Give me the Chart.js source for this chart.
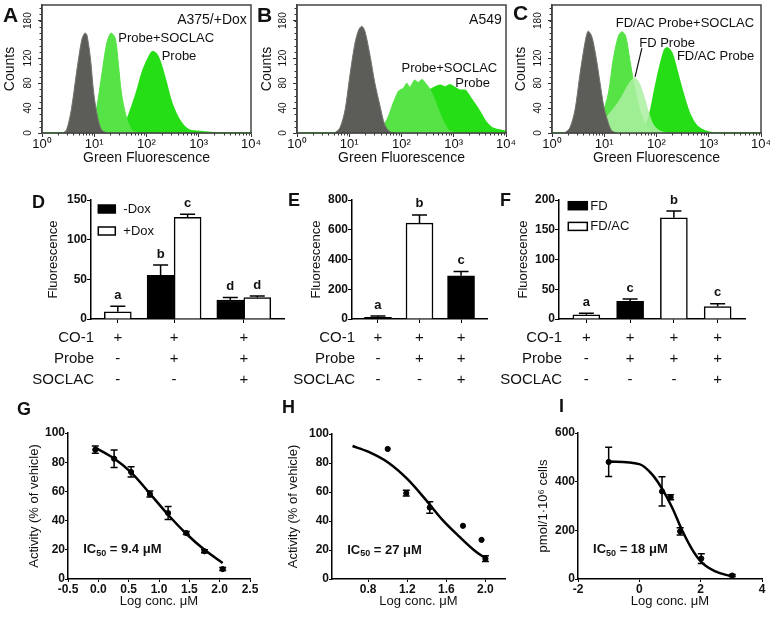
<!DOCTYPE html>
<html>
<head>
<meta charset="utf-8">
<script src="https://cdn.jsdelivr.net/npm/chart.js@4.4.0/dist/chart.umd.min.js"></script>
<style>
body { margin: 0; background: #fff; }
#fig { position: relative; width: 770px; height: 624px; overflow: hidden; font-family: "Liberation Sans", Arial, sans-serif; }
#fig canvas { position: absolute; }
.lt { position: absolute; font-weight: bold; line-height: 1; color: #111; }
</style>
</head>
<body>
<div id="fig">
  <canvas id="cA"></canvas><canvas id="cB"></canvas><canvas id="cC"></canvas>
  <canvas id="cD"></canvas><canvas id="cE"></canvas><canvas id="cF"></canvas>
  <canvas id="cG"></canvas><canvas id="cH"></canvas><canvas id="cI"></canvas>
  <div class="lt" style="left:3px;top:4px;font-size:21px">A</div>
  <div class="lt" style="left:257px;top:4px;font-size:21px">B</div>
  <div class="lt" style="left:513px;top:2px;font-size:21px">C</div>
  <div class="lt" style="left:32px;top:193px;font-size:18px">D</div>
  <div class="lt" style="left:288px;top:191px;font-size:18px">E</div>
  <div class="lt" style="left:500px;top:191px;font-size:18px">F</div>
  <div class="lt" style="left:17px;top:400px;font-size:18px">G</div>
  <div class="lt" style="left:282px;top:398px;font-size:18px">H</div>
  <div class="lt" style="left:559px;top:397px;font-size:18px">I</div>
</div>
<script>
// ---------- A-C : flow cytometry histograms (x in log10 units) ----------
const decades = [0, 1, 2, 3, 4];
const countTicks = [0, 40, 80, 120, 180];

const aCtrlX = [0.40, 0.47, 0.56, 0.66, 0.76, 0.82, 0.86, 0.93, 0.99, 1.06, 1.14, 1.24];
const aCtrlY = [0, 5, 37, 96, 149, 160, 157, 117, 64, 27, 5, 0];
const aSoclacX = [0.85, 0.95, 1.04, 1.14, 1.24, 1.32, 1.40, 1.46, 1.52, 1.61, 1.72, 1.88];
const aSoclacY = [0, 8, 37, 91, 144, 160, 152, 112, 64, 27, 5, 0];
const aProbeX = [0, 1.43, 1.56, 1.68, 1.81, 1.94, 2.07, 2.13, 2.23, 2.36, 2.48, 2.64, 2.80, 3.03, 3.28, 4];
const aProbeY = [0, 0, 8, 32, 64, 101, 125, 130, 120, 85, 48, 19, 5, 2, 0, 0];

const bCtrlX = [0.72, 0.82, 0.92, 1.01, 1.11, 1.18, 1.24, 1.30, 1.40, 1.49, 1.59, 1.68, 1.78, 1.88];
const bCtrlY = [0, 8, 37, 91, 144, 165, 171, 163, 123, 80, 43, 13, 2, 0];
const bSoclacX = [1.49, 1.65, 1.75, 1.84, 1.94, 2.04, 2.10, 2.16, 2.25, 2.32, 2.39, 2.46, 2.53, 2.61, 2.71, 2.80, 2.90, 3.03];
const bSoclacY = [0, 11, 27, 48, 67, 72, 80, 73, 85, 81, 86, 80, 72, 59, 37, 19, 5, 0];
const bProbeX = [0, 1.68, 1.88, 2.07, 2.23, 2.39, 2.52, 2.64, 2.74, 2.84, 2.93, 3.03, 3.12, 3.22, 3.32, 3.41, 3.51, 3.60, 3.73, 3.89, 4.0];
const bProbeY = [0, 0, 8, 24, 43, 56, 67, 73, 76, 73, 77, 72, 68, 68, 56, 45, 32, 19, 8, 4, 2];

const cCtrlX = [0.24, 0.34, 0.44, 0.53, 0.63, 0.69, 0.76, 0.84, 0.92, 0.99, 1.06, 1.14, 1.24];
const cCtrlY = [0, 8, 37, 91, 144, 163, 155, 123, 80, 43, 21, 4, 0];
const cSoclacX = [0.69, 0.82, 0.95, 1.08, 1.17, 1.27, 1.34, 1.41, 1.49, 1.59, 1.70, 1.81, 1.94];
const cSoclacY = [0, 8, 27, 64, 117, 155, 162, 155, 117, 69, 32, 11, 0];
const cFdX = [0.72, 0.92, 1.11, 1.30, 1.46, 1.57, 1.65, 1.75, 1.84, 1.94, 2.07, 2.20];
const cFdY = [0, 13, 32, 53, 77, 88, 83, 61, 35, 13, 3, 0];
const cFdacX = [0, 1.68, 1.78, 1.88, 1.97, 2.07, 2.16, 2.21, 2.29, 2.39, 2.52, 2.64, 2.77, 2.93, 3.09, 4];
const cFdacY = [0, 0, 8, 32, 69, 107, 133, 136, 128, 99, 59, 29, 11, 3, 0, 0];

// ---------- D-F : bar charts ----------
const rowNames = ['CO-1', 'Probe', 'SOCLAC'];

const dCO1 = ['+', '+', '+'];
const dProbe = ['-', '+', '+'];
const dSoclac = ['-', '-', '+'];
const dMinusDox = [null, 55, 24];
const dMinusDoxErr = [null, 13, 3];
const dMinusDoxSig = [null, 'b', 'd'];
const dPlusDox = [9, 128, 27];
const dPlusDoxErr = [7, 4, 2];
const dPlusDoxSig = ['a', 'c', 'd'];

const eCO1 = ['+', '+', '+'];
const eProbe = ['-', '+', '+'];
const eSoclac = ['-', '-', '+'];
const eBlack = [12, null, 291];
const eBlackErr = [8, null, 28];
const eBlackSig = ['a', null, 'c'];
const eWhite = [null, 645, null];
const eWhiteErr = [null, 55, null];
const eWhiteSig = [null, 'b', null];

const fCO1 = ['+', '+', '+', '+'];
const fProbe = ['-', '+', '+', '+'];
const fSoclac = ['-', '-', '-', '+'];
const fFD = [null, 29.5, null, null];
const fFDErr = [null, 4, null, null];
const fFDSig = [null, 'c', null, null];
const fFDAC = [7, null, 170, 21];
const fFDACErr = [2.5, null, 11.5, 4.5];
const fFDACSig = ['a', null, 'b', 'c'];

// ---------- G-I : dose response ----------
const gLogConc = [-0.05, 0.26, 0.54, 0.85, 1.15, 1.45, 1.75, 2.05];
const gActivity = [88.6, 82.4, 73.3, 58.2, 45.2, 31.5, 19, 6.8];
const gSem = [2.5, 6, 3.5, 2, 4.5, 1, 1, 1];
const gFitX = [-0.05, 0.26, 0.54, 0.85, 1.15, 1.45, 1.75, 2.05];
const gFitY = [90, 82.5, 73, 58.5, 44, 31, 20, 11];

const hLogConc = [1.0, 1.19, 1.43, 1.77, 1.96, 2.0];
const hActivity = [89.7, 59.2, 49.3, 36.7, 27, 14];
const hSem = [0, 2, 4, 0, 0, 2];
const hFitX = [0.64, 0.8, 1.0, 1.2, 1.39, 1.56, 1.73, 1.9, 2.0];
const hFitY = [91.7, 87.8, 80.5, 69, 54.6, 40.8, 29.4, 19, 14.4];

const iLogConc = [-1, 0.74, 1.02, 1.33, 2.02, 3.03];
const iAmount = [481, 360, 336, 196, 84, 14];
const iSem = [60, 60, 10, 15, 20, 4];
const iFitX = [-1, 0, 0.43, 0.76, 1.08, 1.41, 1.73, 2.05, 2.48, 3.0];
const iFitY = [483, 472, 428, 367, 291, 196, 120, 66, 31, 11];

// ----------------------------------------------------------------
const FONT = '"Liberation Sans", Arial, sans-serif';
const SUP = ['⁰', '¹', '²', '³', '⁴'];
const GRAY = '#5c5c58', SOC = '#55e346', PROBE = '#26de16', PALE = 'rgba(172,240,162,0.85)';

Chart.defaults.font.family = FONT;
Chart.defaults.color = '#111';
Chart.defaults.animation = false;
Chart.defaults.plugins.legend.display = false;
Chart.defaults.plugins.tooltip.enabled = false;

const font = (size, bold) => (bold ? 'bold ' : '') + size + 'px ' + FONT;
const pts = (xs, ys) => xs.map((x, i) => ({x, y: ys[i]}));

// extra drawing: frame, minor ticks, labels inside plots, legend, sign-table row names
const decor = {
  id: 'decor',
  afterDraw(chart, args, o) {
    const ctx = chart.ctx, a = chart.chartArea, sx = chart.scales.x, sy = chart.scales.y;
    ctx.save();
    ctx.strokeStyle = '#333';
    ctx.lineWidth = 1;
    if (o.minor) {
      ctx.beginPath();
      for (let d = 0; d < 4; d++) {
        for (let k = 2; k < 10; k++) {
          const px = Math.round(sx.getPixelForValue(d + Math.log10(k))) + 0.5;
          ctx.moveTo(px, a.bottom); ctx.lineTo(px, a.bottom + 2.5);
        }
      }
      for (let v = 10; v < sy.max; v += 10) {
        const py = Math.round(sy.getPixelForValue(v)) + 0.5;
        ctx.moveTo(a.left, py); ctx.lineTo(a.left - 2.5, py);
      }
      ctx.stroke();
    }
    if (o.frame) {
      ctx.lineWidth = 1.5;
      ctx.strokeStyle = o.frame;
      ctx.strokeRect(a.left, a.top, a.right - a.left, a.bottom - a.top);
    }
    ctx.fillStyle = '#111';
    ctx.textBaseline = 'middle';
    for (const t of (o.texts || [])) {
      ctx.font = font(t.size || 13, t.bold);
      ctx.textAlign = t.align || 'left';
      ctx.fillText(t.text, sx.getPixelForValue(t.x), sy.getPixelForValue(t.y));
    }
    ctx.strokeStyle = '#111';
    ctx.lineWidth = 1.2;
    for (const l of (o.lines || [])) {
      ctx.beginPath();
      ctx.moveTo(sx.getPixelForValue(l.x1), sy.getPixelForValue(l.y1));
      ctx.lineTo(sx.getPixelForValue(l.x2), sy.getPixelForValue(l.y2));
      ctx.stroke();
    }
    if (o.ic) {
      // IC50 label with subscript
      let x = sx.getPixelForValue(o.ic.x);
      const y = sy.getPixelForValue(o.ic.y);
      ctx.textAlign = 'left';
      ctx.font = font(13, true);
      ctx.fillText('IC', x, y);
      x += ctx.measureText('IC').width;
      ctx.font = font(9, true);
      ctx.fillText('50', x, y + 4);
      x += ctx.measureText('50').width;
      ctx.font = font(13, true);
      ctx.fillText(o.ic.rest, x, y);
    }
    if (o.legend) {
      const L = o.legend;
      chart.data.datasets.forEach((ds, i) => {
        const x = a.left + L.dx, y = a.top + L.dy + i * L.step;
        ctx.fillStyle = ds.backgroundColor;
        ctx.fillRect(x, y, L.w, L.h);
        ctx.strokeStyle = '#000';
        ctx.lineWidth = 1.5;
        ctx.strokeRect(x, y, L.w, L.h);
        ctx.fillStyle = '#111';
        ctx.font = font(13);
        ctx.textAlign = 'left';
        ctx.fillText(ds.label, x + L.w + L.gap, y + L.h / 2 + 0.5);
      });
    }
    if (o.rows) {
      ctx.font = font(15);
      ctx.textAlign = 'right';
      ctx.fillStyle = '#111';
      rowNames.forEach((r, i) => ctx.fillText(r, a.left + 3, a.bottom + o.rows.start + i * o.rows.step));
    }
    ctx.restore();
  }
};

// error bars (+ significance letters on bars)
const errorBars = {
  id: 'errorBars',
  afterDatasetsDraw(chart) {
    const ctx = chart.ctx, sy = chart.scales.y;
    chart.data.datasets.forEach((ds, i) => {
      if (!ds.errors) return;
      const meta = chart.getDatasetMeta(i);
      ctx.save();
      ctx.strokeStyle = '#000';
      ctx.lineWidth = 1.5;
      meta.data.forEach((el, j) => {
        const v = ds.data[j].y;
        if (v == null) return;
        const e = ds.errors[j];
        const top = sy.getPixelForValue(v + (e || 0));
        if (e) {
          const bot = ds.upOnly ? el.y : sy.getPixelForValue(v - e);
          const hw = ds.capHalf;
          ctx.beginPath();
          ctx.moveTo(el.x, bot); ctx.lineTo(el.x, top);
          ctx.moveTo(el.x - hw, top); ctx.lineTo(el.x + hw, top);
          if (!ds.upOnly) { ctx.moveTo(el.x - hw, bot); ctx.lineTo(el.x + hw, bot); }
          ctx.stroke();
        }
        if (ds.letters && ds.letters[j]) {
          ctx.fillStyle = '#111';
          ctx.font = font(13, true);
          ctx.textAlign = 'center';
          ctx.textBaseline = 'middle';
          ctx.fillText(ds.letters[j], el.x, top - 11);
        }
      });
      ctx.restore();
    });
  }
};
Chart.register(decor, errorBars);

// put a chart so that its plot area lands on `area` (page px)
function place(id, box, area, cfg) {
  const cv = document.getElementById(id);
  cv.width = box[2]; cv.height = box[3];
  cv.style.left = box[0] + 'px'; cv.style.top = box[1] + 'px';
  cv.style.width = box[2] + 'px'; cv.style.height = box[3] + 'px';
  const o = cfg.options;
  o.responsive = false;
  o.devicePixelRatio = 1;
  o.layout = {padding: {left: 0, top: area[1] - box[1], right: box[0] + box[2] - area[2], bottom: 0}};
  o.scales.x.afterFit = s => { s.height = box[1] + box[3] - area[3]; s.paddingLeft = 0; s.paddingRight = 0; };
  o.scales.y.afterFit = s => { s.width = area[0] - box[0]; s.paddingTop = 0; s.paddingBottom = 0; };
  return new Chart(cv, cfg);
}

function flowPanel(id, box, area, sets, texts, lines, yTitleX) {
  return place(id, box, area, {
    type: 'line',
    data: {
      datasets: sets.map(s => ({
        data: pts(s.x, s.y), backgroundColor: s.fill, borderColor: s.line, borderWidth: s.bw || 1,
        fill: 'origin', pointRadius: 0, tension: s.tension
      }))
    },
    options: {
      scales: {
        x: {
          type: 'linear', min: 0, max: 4,
          afterBuildTicks: s => { s.ticks = decades.map(v => ({value: v})); },
          ticks: {callback: v => '10' + SUP[v], font: {size: 13}, padding: 0, maxRotation: 0, autoSkip: false, color: '#111'},
          grid: {drawOnChartArea: false, tickLength: 4, color: '#333'},
          border: {color: '#444', width: 1.5},
          title: {display: true, text: 'Green Fluorescence', font: {size: 14}, color: '#111', padding: {bottom: box[1] + box[3] - 158 - 8.4}}
        },
        y: {
          min: 0, max: 205,
          afterBuildTicks: s => { s.ticks = countTicks.map(v => ({value: v})); },
          ticks: {minRotation: 90, maxRotation: 90, crossAlign: 'center', padding: 1, font: {size: 10}, color: '#111'},
          grid: {drawOnChartArea: false, tickLength: 4, color: '#333'},
          border: {color: '#444', width: 1.5},
          title: {display: true, text: 'Counts', font: {size: 14}, color: '#111', padding: {top: yTitleX - box[0] - 8.4}}
        }
      },
      plugins: {decor: {frame: '#444', minor: true, texts, lines}}
    }
  });
}

// group centres: half a bar at each end, 0.6 bar between groups
function layoutGroups(seriesValues) {
  const n = seriesValues[0].length;
  let pos = 0.5;
  const groups = [];
  for (let i = 0; i < n; i++) {
    const k = seriesValues.filter(s => s[i] != null).length;
    if (i) pos += 0.6;
    groups.push(pos + k / 2);
    pos += k;
  }
  return {groups, max: pos + 0.5};
}

function barPanel(id, box, area, series, signs, yMax, yStep, yTitleX, legend) {
  const lay = layoutGroups(series.map(s => s.values));
  const datasets = series.map(s => ({
    label: s.label,
    data: s.values.map((v, i) => ({x: lay.groups[i], y: v})),
    errors: s.errors, letters: s.letters, upOnly: true, capHalf: 7.5,
    backgroundColor: s.fill, borderColor: '#000', borderWidth: 1.5,
    skipNull: true, barThickness: 27
  }));
  return place(id, box, area, {
    type: 'bar',
    data: {datasets},
    options: {
      scales: {
        x: {
          type: 'linear', min: 0, max: lay.max, offset: false,
          afterBuildTicks: s => { s.ticks = lay.groups.map(v => ({value: v})); },
          ticks: {callback: (v, i) => signs.map(r => r[i]), font: {size: 15, lineHeight: 1.4}, padding: 4.5, autoSkip: false, maxRotation: 0, color: '#111'},
          grid: {drawOnChartArea: false, offset: false, tickLength: 4, color: '#000'},
          border: {color: '#000', width: 1.5}
        },
        y: {
          min: 0, max: yMax,
          ticks: {stepSize: yStep, font: {size: 12, weight: 'bold'}, padding: 0, color: '#111'},
          grid: {drawOnChartArea: false, tickLength: 4, color: '#000'},
          border: {color: '#000', width: 1.5},
          title: {display: true, text: 'Fluorescence', font: {size: 13}, color: '#111', padding: {top: yTitleX - box[0] - 7.8}}
        }
      },
      plugins: {decor: {legend, rows: {start: 19, step: 21}}}
    }
  });
}

function dosePanel(id, box, area, xs, ys, errs, fitX, fitY, xAxis, yAxis, yTitle, yTitleX, ic) {
  return place(id, box, area, {
    type: 'line',
    data: {
      datasets: [
        {data: pts(xs, ys), errors: errs, capHalf: 3.5, showLine: false, pointRadius: 2.6,
         pointBackgroundColor: '#000', pointBorderColor: '#000', borderColor: '#000'},
        {data: pts(fitX, fitY), borderColor: '#000', borderWidth: 2.5, pointRadius: 0,
         cubicInterpolationMode: 'monotone', fill: false}
      ]
    },
    options: {
      scales: {
        x: Object.assign({
          type: 'linear',
          grid: {drawOnChartArea: false, tickLength: 3, color: '#000'},
          border: {color: '#000', width: 1.5},
          title: {display: true, text: 'Log conc. μM', font: {size: 13}, color: '#111', padding: {bottom: box[1] + box[3] - 601.7 - 7.8}}
        }, xAxis),
        y: Object.assign({
          grid: {drawOnChartArea: false, tickLength: 3, color: '#000'},
          border: {color: '#000', width: 1.5},
          title: {display: true, text: yTitle, font: {size: 13}, color: '#111', padding: {top: yTitleX - box[0] - 7.8}}
        }, yAxis)
      },
      plugins: {decor: {ic}}
    }
  });
}

// ---------------- build panels ----------------
flowPanel('cA', [0, 0, 268, 168], [42, 5, 251, 133], [
  {x: aCtrlX, y: aCtrlY, fill: GRAY, line: '#72726e', tension: 0.3},
  {x: aSoclacX, y: aSoclacY, fill: SOC, line: SOC, tension: 0.3},
  {x: aProbeX, y: aProbeY, fill: PROBE, line: PROBE, bw: 2, tension: 0.3}
], [
  {text: 'A375/+Dox', x: 3.92, y: 181, align: 'right', size: 14},
  {text: 'Probe+SOCLAC', x: 1.46, y: 152},
  {text: 'Probe', x: 2.29, y: 122}
], [], 10);

flowPanel('cB', [256, 0, 268, 168], [297, 5, 506, 133], [
  {x: bCtrlX, y: bCtrlY, fill: GRAY, line: '#72726e', tension: 0.3},
  {x: bSoclacX, y: bSoclacY, fill: SOC, line: SOC, tension: 0.15},
  {x: bProbeX, y: bProbeY, fill: PROBE, line: PROBE, bw: 2, tension: 0.15}
], [
  {text: 'A549', x: 3.92, y: 181, align: 'right', size: 14},
  {text: 'Probe+SOCLAC', x: 2.0, y: 104},
  {text: 'Probe', x: 3.03, y: 80}
], [], 267.5);

flowPanel('cC', [512, 0, 258, 168], [552, 5, 761, 133], [
  {x: cCtrlX, y: cCtrlY, fill: GRAY, line: '#72726e', tension: 0.3},
  {x: cFdX, y: cFdY, fill: PALE, line: PALE, tension: 0.3},
  {x: cSoclacX, y: cSoclacY, fill: SOC, line: SOC, tension: 0.3},
  {x: cFdacX, y: cFdacY, fill: PROBE, line: PROBE, bw: 2, tension: 0.3}
], [
  {text: 'FD/AC Probe+SOCLAC', x: 1.22, y: 176},
  {text: 'FD Probe', x: 1.67, y: 144},
  {text: 'FD/AC Probe', x: 2.39, y: 122}
], [{x1: 1.72, y1: 136, x2: 1.59, y2: 90}], 521);

barPanel('cD', [0, 168, 290, 222], [91, 200, 284, 319], [
  {label: '-Dox', values: dMinusDox, errors: dMinusDoxErr, letters: dMinusDoxSig, fill: '#000'},
  {label: '+Dox', values: dPlusDox, errors: dPlusDoxErr, letters: dPlusDoxSig, fill: '#fff'}
], [dCO1, dProbe, dSoclac], 150, 50, 53, {dx: 7.3, dy: 5, w: 17, h: 8, step: 22, gap: 8});

barPanel('cE', [290, 168, 210, 222], [352, 200, 487, 319], [
  {label: 'black', values: eBlack, errors: eBlackErr, letters: eBlackSig, fill: '#000'},
  {label: 'white', values: eWhite, errors: eWhiteErr, letters: eWhiteSig, fill: '#fff'}
], [eCO1, eProbe, eSoclac], 800, 200, 316.7, null);

barPanel('cF', [500, 168, 270, 222], [559, 200, 745, 319], [
  {label: 'FD', values: fFD, errors: fFDErr, letters: fFDSig, fill: '#000'},
  {label: 'FD/AC', values: fFDAC, errors: fFDACErr, letters: fFDACSig, fill: '#fff'}
], [fCO1, fProbe, fSoclac], 200, 50, 523, {dx: 9.3, dy: 1.7, w: 19, h: 8, step: 20.7, gap: 3});

dosePanel('cG', [0, 390, 266, 234], [68, 433, 250, 579], gLogConc, gActivity, gSem, gFitX, gFitY,
  {min: -0.5, max: 2.5, ticks: {stepSize: 0.5, callback: v => v.toFixed(1), font: {size: 12, weight: 'bold'}, padding: 0, maxRotation: 0, color: '#111'}},
  {min: 0, max: 100, ticks: {stepSize: 20, font: {size: 12, weight: 'bold'}, padding: 0, color: '#111'}},
  'Activity (% of vehicle)', 34, {x: -0.25, y: 20, rest: ' = 9.4 μM'});

dosePanel('cH', [256, 390, 264, 234], [332, 434, 505, 579], hLogConc, hActivity, hSem, hFitX, hFitY,
  {min: 0.43, max: 2.2, afterBuildTicks: s => { s.ticks = [0.8, 1.2, 1.6, 2.0].map(v => ({value: v})); },
   ticks: {callback: v => v.toFixed(1), font: {size: 12, weight: 'bold'}, padding: 0, maxRotation: 0, autoSkip: false, color: '#111'}},
  {min: 0, max: 100, ticks: {stepSize: 20, font: {size: 12, weight: 'bold'}, padding: 0, color: '#111'}},
  'Activity (% of vehicle)', 293, {x: 0.585, y: 20, rest: ' = 27 μM'});

dosePanel('cI', [512, 390, 258, 234], [578, 433, 762, 579], iLogConc, iAmount, iSem, iFitX, iFitY,
  {min: -2, max: 4, ticks: {stepSize: 2, font: {size: 12, weight: 'bold'}, padding: 0, maxRotation: 0, color: '#111'}},
  {min: 0, max: 600, ticks: {stepSize: 200, font: {size: 12, weight: 'bold'}, padding: 0, color: '#111'}},
  'pmol/1·10⁶ cells', 543, {x: -1.51, y: 120, rest: ' = 18 μM'});
</script>
</body>
</html>
